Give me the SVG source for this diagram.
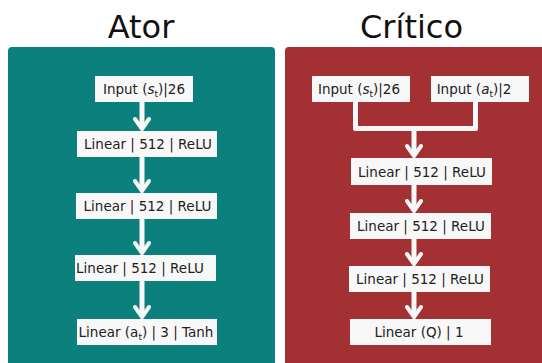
<svg xmlns="http://www.w3.org/2000/svg" width="542" height="363" viewBox="0 0 542 363">
<defs>
<style>
.title{font-family:"DejaVu Sans",sans-serif;font-size:32px;fill:#111;text-anchor:middle}
.box{fill:#f8f8f8}
.lbl{font-family:"DejaVu Sans",sans-serif;font-size:13.5px;fill:#222;text-anchor:middle}
.ln{stroke:#f8f8f8;stroke-width:5;fill:none}
.ah{stroke:#f8f8f8;stroke-width:4;fill:none;stroke-linecap:round;stroke-linejoin:round}
</style>
<marker id="arr" markerUnits="userSpaceOnUse" markerWidth="16" markerHeight="20" refX="11" refY="10" orient="auto" viewBox="0 0 16 20">
<path d="M3,3 L13,10 L3,17" class="ah"/>
</marker>
</defs>
<rect width="542" height="363" fill="#ffffff"/>
<g id="panel-ator">
<path d="M8,51 Q8,47 12,47 L271,47 Q275,47 275,51 L275,363 L8,363 Z" fill="#0b807c"/>
<text class="title" x="141" y="37.5">Ator</text>
</g>
<g id="panel-critico">
<path d="M285,51 Q285,47 289,47 L542,47 L542,363 L285,363 Z" fill="#a33033"/>
<text class="title" x="411.5" y="37.5">Crítico</text>
</g>
<g id="connectors">
<path class="ln" d="M142,102 V127" marker-end="url(#arr)"/>
<path class="ln" d="M142,157 V189" marker-end="url(#arr)"/>
<path class="ln" d="M142,219 V251" marker-end="url(#arr)"/>
<path class="ln" d="M142,281 V315" marker-end="url(#arr)"/>
<path class="ln" d="M355.5,102 V128.5 H475.5 V102" stroke-linejoin="round"/>
<path class="ln" d="M414,128.5 V154" marker-end="url(#arr)"/>
<path class="ln" d="M414,185 V209" marker-end="url(#arr)"/>
<path class="ln" d="M414,239 V262" marker-end="url(#arr)"/>
<path class="ln" d="M414,292 V315" marker-end="url(#arr)"/>
</g>
<g id="a-input">
<rect class="box" x="95" y="76" width="98" height="26"/>
<text class="lbl" x="144" y="94">Input (<tspan font-style="italic">s</tspan><tspan font-size="9" dy="3">t</tspan><tspan dy="-3">)|26</tspan></text>
</g>
<g id="a-l1">
<rect class="box" x="77" y="131" width="140" height="26"/>
<text class="lbl" x="148" y="149">Linear | 512 | ReLU</text>
</g>
<g id="a-l2">
<rect class="box" x="76" y="193" width="141" height="26"/>
<text class="lbl" x="147.5" y="211">Linear | 512 | ReLU</text>
</g>
<g id="a-l3">
<rect class="box" x="75" y="255" width="141" height="26"/>
<text class="lbl" x="140" y="273">Linear | 512 | ReLU</text>
</g>
<g id="a-out">
<rect class="box" x="77" y="319" width="140" height="26"/>
<text class="lbl" x="146" y="337">Linear (a<tspan font-size="9" dy="3">t</tspan><tspan dy="-3">) | 3 | Tanh</tspan></text>
</g>
<g id="c-input-s">
<rect class="box" x="312" y="76" width="98" height="26"/>
<text class="lbl" x="359" y="94">Input (<tspan font-style="italic">s</tspan><tspan font-size="9" dy="3">t</tspan><tspan dy="-3">)|26</tspan></text>
</g>
<g id="c-input-a">
<rect class="box" x="431" y="76" width="98" height="26"/>
<text class="lbl" x="474" y="94">Input (<tspan font-style="italic">a</tspan><tspan font-size="9" dy="3">t</tspan><tspan dy="-3">)|2</tspan></text>
</g>
<g id="c-l1">
<rect class="box" x="351" y="158" width="141" height="27"/>
<text class="lbl" x="422" y="176.5">Linear | 512 | ReLU</text>
</g>
<g id="c-l2">
<rect class="box" x="350" y="213" width="141" height="26"/>
<text class="lbl" x="421" y="231">Linear | 512 | ReLU</text>
</g>
<g id="c-l3">
<rect class="box" x="349" y="266" width="141" height="26"/>
<text class="lbl" x="420" y="284">Linear | 512 | ReLU</text>
</g>
<g id="c-out">
<rect class="box" x="350" y="319" width="141" height="26"/>
<text class="lbl" x="419" y="337">Linear (Q) | 1</text>
</g>
</svg>
